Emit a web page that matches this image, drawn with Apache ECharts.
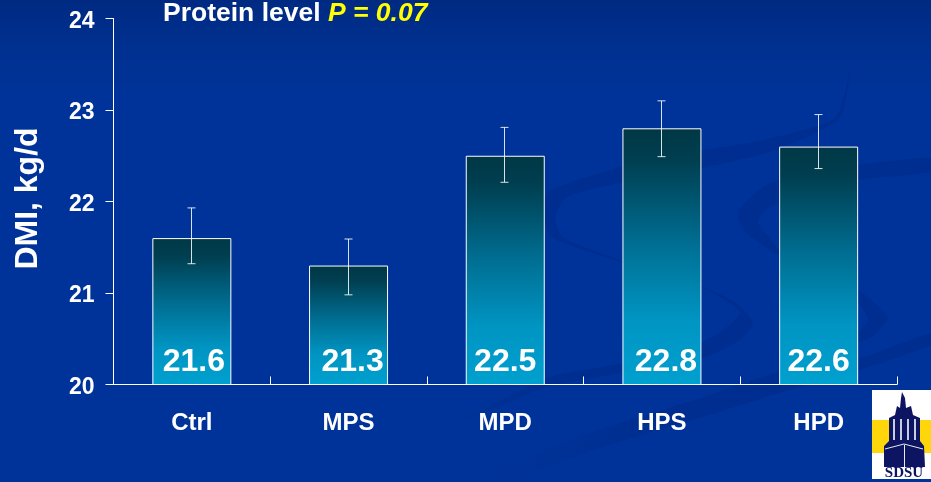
<!DOCTYPE html>
<html>
<head>
<meta charset="utf-8">
<style>html,body{margin:0;padding:0;background:#003399}#chart{width:931px;height:482px}</style>
<script src="https://cdn.jsdelivr.net/npm/echarts@6/dist/echarts.min.js"></script>
</head>
<body>
<div id="chart"></div>
<script>
// Dry matter intake by treatment
const categories = ['Ctrl', 'MPS', 'MPD', 'HPS', 'HPD'];
const dmiMeans = [21.6, 21.3, 22.5, 22.8, 22.6];
const errorHigh = [21.93, 21.59, 22.81, 23.10, 22.95];
const errorLow = [21.32, 20.98, 22.21, 22.49, 22.36];
const yTicks = [20, 21, 22, 23, 24];

// Small horizontal shifts of the value labels inside their bars
const labelShift = [2, 4, 0, 4, 0];

const FONT = '"Liberation Sans", Arial, sans-serif';
const NAVY = '#0d1562';
const SWOOSH = '#002e90';

const barFill = new echarts.graphic.LinearGradient(0, 0, 0, 1, [
  { offset: 0, color: '#003845' },
  { offset: 0.12, color: '#003e50' },
  { offset: 0.45, color: '#006e92' },
  { offset: 0.75, color: '#0095c3' },
  { offset: 1, color: '#00a0cf' }
]);

// Faint tapered ribbons in the slide background; fadeTo sets where the left end becomes opaque
function ribbon(points, fadeTo) {
  const fill = new echarts.graphic.LinearGradient(0, 0, 1, 0, [
    { offset: 0, color: 'rgba(0,46,144,0)' },
    { offset: fadeTo, color: SWOOSH },
    { offset: 1, color: SWOOSH }
  ]);
  return {
    type: 'polygon', z: -10, silent: true,
    shape: { points, smooth: 0.2 },
    style: { fill }
  };
}
const ribbons = [
  ribbon([[850, 70], [835, 118], [763, 140], [703, 150], [620, 167], [547, 192], [543, 217], [552, 238], [620, 262], [703, 287], [737, 303], [753, 323], [740, 340], [703, 358], [583, 380], [543, 388], [423, 440],
    [547, 378], [623, 363], [700, 343], [723, 330], [740, 312], [703, 288], [620, 260], [563, 237], [555, 218], [567, 197], [620, 183], [703, 168], [777, 150], [840, 118]], 0.3),
  ribbon([[931, 158], [858, 165], [770, 183], [737, 212], [745, 232], [778, 255], [858, 290], [888, 317], [875, 335], [858, 342],
    [858, 332], [868, 320], [858, 303], [790, 262], [770, 238], [758, 222], [770, 207], [858, 180], [931, 172]], 0.01),
  ribbon([[931, 333], [860, 358], [778, 372], [700, 398], [590, 433], [480, 478], [510, 480], [600, 448], [700, 418], [800, 387], [860, 370], [931, 345]], 0.4)
];

// University logo in the lower right corner
const logo = [
  { type: 'rect', shape: { x: 872, y: 390, width: 59, height: 89 }, style: { fill: '#ffffff' } },
  { type: 'rect', shape: { x: 872, y: 420, width: 59, height: 33 }, style: { fill: '#ffd60a' } },
  { type: 'polygon', shape: { points: [[902, 392], [905, 398], [906, 408], [911, 406], [913, 415], [920, 418], [920, 441], [924, 446], [925, 467], [884, 467], [884, 446], [889, 441], [889, 418], [895, 415], [897, 406], [900, 408], [901, 398]] }, style: { fill: NAVY } },
  { type: 'rect', shape: { x: 893, y: 419, width: 2, height: 21 }, style: { fill: '#c9cbe0' } },
  { type: 'rect', shape: { x: 900, y: 419, width: 2, height: 21 }, style: { fill: '#c9cbe0' } },
  { type: 'rect', shape: { x: 907, y: 419, width: 2, height: 21 }, style: { fill: '#c9cbe0' } },
  { type: 'rect', shape: { x: 914, y: 419, width: 2, height: 21 }, style: { fill: '#c9cbe0' } },
  { type: 'polyline', shape: { points: [[885, 449], [904, 444], [923, 449]] }, style: { stroke: '#e8e9f2', lineWidth: 1, fill: null } },
  { type: 'rect', shape: { x: 904, y: 445, width: 1, height: 22 }, style: { fill: '#e8e9f2' } },
  { type: 'text', x: 904, y: 473.5, style: { text: 'SDSU', fill: NAVY, font: 'bold 15px "Liberation Serif", serif', align: 'center', verticalAlign: 'middle' } }
].map(el => Object.assign(el, { z: 100, silent: true }));

const chart = echarts.init(document.getElementById('chart'), null, { renderer: 'canvas' });

chart.setOption({
  animation: false,
  backgroundColor: new echarts.graphic.LinearGradient(0, 0, 0, 1, [
    { offset: 0, color: '#002a82' },
    { offset: 0.1, color: '#003090' },
    { offset: 0.2, color: '#003399' },
    { offset: 1, color: '#003399' }
  ]),
  title: {
    left: 163, top: -1, padding: 0,
    text: '{w|Protein level }{y|P = 0.07}',
    textStyle: {
      rich: {
        w: { color: '#ffffff', fontFamily: FONT, fontWeight: 'bold', fontSize: 26.5, lineHeight: 30 },
        y: { color: '#ffff00', fontFamily: FONT, fontWeight: 'bold', fontStyle: 'italic', fontSize: 26.5, lineHeight: 30 }
      }
    }
  },
  grid: { left: 113.5, right: 34, top: 18.5, bottom: 97.5, outerBoundsMode: 'none' },
  xAxis: {
    type: 'category',
    data: categories,
    boundaryGap: true,
    axisLine: { lineStyle: { color: '#ffffff', width: 1 } },
    axisTick: { show: true, inside: true, length: 8, lineStyle: { color: '#ffffff', width: 1 } },
    axisLabel: { color: '#ffffff', fontFamily: FONT, fontWeight: 'bold', fontSize: 24, margin: 27 }
  },
  yAxis: {
    type: 'value',
    min: yTicks[0],
    max: yTicks[yTicks.length - 1],
    interval: 1,
    name: 'DMI, kg/d',
    nameLocation: 'middle',
    nameGap: 69,
    nameMoveOverlap: false,
    nameTextStyle: { color: '#ffffff', fontFamily: FONT, fontWeight: 'bold', fontSize: 32, padding: [0, 0, 0, 6] },
    splitLine: { show: false },
    axisLine: { show: true, lineStyle: { color: '#ffffff', width: 1 } },
    axisTick: { show: true, length: 8, lineStyle: { color: '#ffffff', width: 1 } },
    axisLabel: { color: '#ffffff', fontFamily: FONT, fontWeight: 'bold', fontSize: 23, margin: 19, verticalAlign: 'top', lineHeight: 6 }
  },
  series: [
    {
      type: 'bar',
      data: dmiMeans.map((value, i) => ({ value, label: { offset: [labelShift[i], 0] } })),
      barWidth: 79,
      z: 2,
      itemStyle: { color: barFill, borderColor: '#ffffff', borderWidth: 1 },
      label: {
        show: true,
        position: 'insideBottom',
        distance: 7,
        color: '#ffffff',
        fontFamily: FONT,
        fontWeight: 'bold',
        fontSize: 32,
        formatter: p => p.value.toFixed(1)
      }
    },
    {
      type: 'custom',
      z: 3,
      silent: true,
      data: categories.map((_, i) => [i, errorLow[i], errorHigh[i]]),
      encode: { x: 0, y: [1, 2] },
      renderItem(params, api) {
        const lo = api.coord([api.value(0), api.value(1)]);
        const hi = api.coord([api.value(0), api.value(2)]);
        const style = { stroke: 'rgba(255,255,255,0.85)', lineWidth: 1, fill: null };
        const x = Math.round(lo[0]) - 0.5;
        const seg = (x1, y1, x2, y2) => ({ type: 'line', shape: { x1, y1, x2, y2 }, style });
        return {
          type: 'group',
          children: [
            seg(x, lo[1], x, hi[1]),
            seg(x - 4, lo[1], x + 4, lo[1]),
            seg(x - 4, hi[1], x + 4, hi[1])
          ]
        };
      }
    }
  ],
  graphic: { elements: ribbons.concat(logo) }
});
</script>
</body>
</html>
